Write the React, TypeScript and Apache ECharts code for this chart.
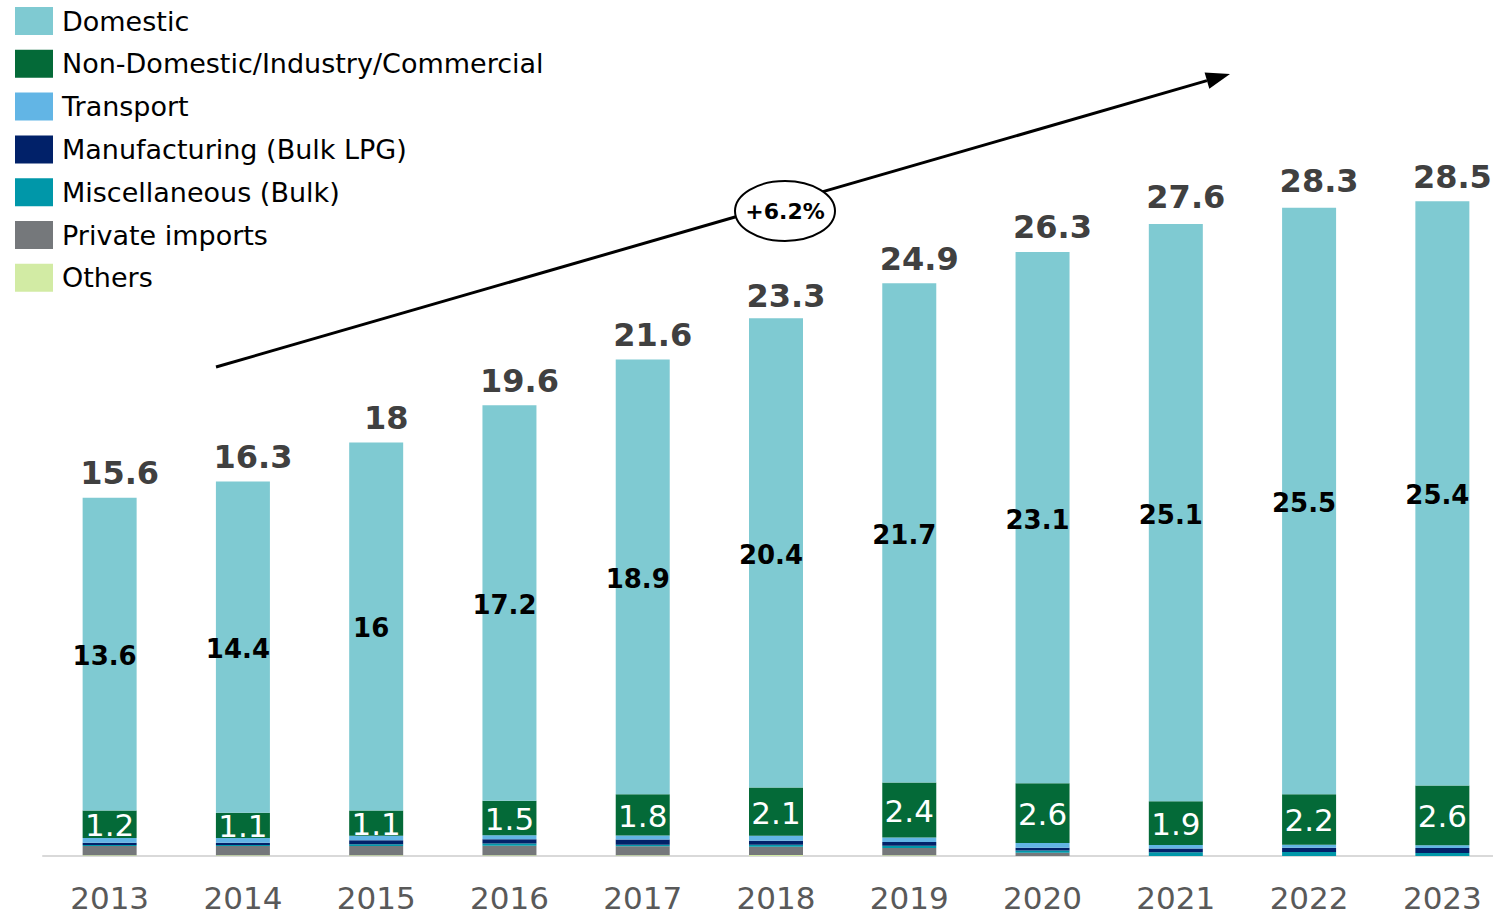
import React, { useEffect, useRef } from "react";
import * as echarts from "echarts";

const years = ["2013", "2014", "2015", "2016", "2017", "2018", "2019", "2020", "2021", "2022", "2023"];
const others = [0.03, 0.03, 0.03, 0.03, 0.03, 0.04, 0.03, 0, 0, 0, 0];
const privateImports = [0.41, 0.41, 0.41, 0.42, 0.39, 0.36, 0.32, 0.14, 0, 0, 0];
const miscellaneous = [0.04, 0.04, 0.07, 0.09, 0.07, 0.09, 0.1, 0.1, 0.16, 0.17, 0.13];
const manufacturing = [0.1, 0.1, 0.17, 0.19, 0.23, 0.17, 0.16, 0.12, 0.17, 0.19, 0.22];
const transport = [0.2, 0.2, 0.2, 0.17, 0.17, 0.22, 0.19, 0.2, 0.15, 0.13, 0.12];
const nonDomestic = [1.2, 1.1, 1.1, 1.5, 1.8, 2.1, 2.4, 2.6, 1.9, 2.2, 2.6];
const domestic = [13.6, 14.4, 16, 17.2, 18.9, 20.4, 21.7, 23.1, 25.1, 25.5, 25.4];
const totals = [15.6, 16.3, 18, 19.6, 21.6, 23.3, 24.9, 26.3, 27.6, 28.3, 28.5];
const cagrLabel = "+6.2%";

const FONT = "DejaVu Sans, Verdana, sans-serif";

export default function App() {
  const ref = useRef<HTMLDivElement>(null);
  useEffect(() => {
    if (!ref.current) return;
    const chart = echarts.init(ref.current, undefined, { renderer: "svg" });
    const barBase = { type: "bar", stack: "total", barWidth: 54 };
    // arrow geometry
    const x1 = 216, y1 = 367, x2 = 1230, y2 = 74;
    const dx = x2 - x1, dy = y2 - y1;
    const len = Math.sqrt(dx * dx + dy * dy);
    const ux = dx / len, uy = dy / len;
    const nx = -uy, ny = ux;
    const hl = 24, hw = 8.5;
    const bx = x2 - ux * hl, by = y2 - uy * hl;
    chart.setOption({
      animation: false,
      textStyle: { fontFamily: FONT },
      legend: {
        orient: "vertical",
        left: 10,
        top: 2,
        itemWidth: 38,
        itemHeight: 28,
        itemGap: 14.8,
        icon: "rect",
        selectedMode: false,
        textStyle: { fontSize: 27, color: "#000", fontFamily: FONT, padding: [0, 0, 0, 4] },
        data: [
          "Domestic",
          "Non-Domestic/Industry/Commercial",
          "Transport",
          "Manufacturing (Bulk LPG)",
          "Miscellaneous (Bulk)",
          "Private imports",
          "Others",
        ],
      },
      grid: { left: 43, top: 28, width: 1466, height: 828 },
      xAxis: {
        type: "category",
        data: years,
        axisLine: { lineStyle: { color: "#d9d9d9", width: 2 } },
        axisTick: { show: false },
        axisLabel: { fontSize: 31, color: "#595959", margin: 26, fontFamily: FONT },
      },
      yAxis: { type: "value", min: 0, max: 36, show: false, splitLine: { show: false } },
      series: [
        { ...barBase, name: "Others", data: others, itemStyle: { color: "#d2eba4" } },
        { ...barBase, name: "Private imports", data: privateImports, itemStyle: { color: "#75787b" } },
        { ...barBase, name: "Miscellaneous (Bulk)", data: miscellaneous, itemStyle: { color: "#0097a9" } },
        { ...barBase, name: "Manufacturing (Bulk LPG)", data: manufacturing, itemStyle: { color: "#012169" } },
        { ...barBase, name: "Transport", data: transport, itemStyle: { color: "#62b5e5" } },
        {
          ...barBase,
          name: "Non-Domestic/Industry/Commercial",
          data: nonDomestic,
          itemStyle: { color: "#046a38" },
          label: { show: true, position: "inside", color: "#fff", fontSize: 31, fontFamily: FONT, offset: [0, 1] },
        },
        {
          ...barBase,
          name: "Domestic",
          data: domestic,
          itemStyle: { color: "#7fcad2" },
          label: {
            show: true,
            position: "inside",
            color: "#000",
            fontSize: 26,
            fontWeight: "bold",
            fontFamily: FONT,
            offset: [-5, 2],
          },
        },
        {
          type: "scatter",
          name: "Total",
          data: totals,
          symbolSize: 0,
          silent: true,
          itemStyle: { opacity: 1, color: "#404040" },
          label: {
            show: true,
            position: "top",
            distance: 8,
            offset: [10, 0],
            color: "#404040",
            opacity: 1,
            fontSize: 32,
            fontWeight: "bold",
            fontFamily: FONT,
            formatter: (p: any) => String(p.value),
          },
        },
      ],
      graphic: [
        {
          type: "line",
          shape: { x1, y1, x2: bx, y2: by },
          style: { stroke: "#000", lineWidth: 3 },
          z: 10,
        },
        {
          type: "polygon",
          shape: {
            points: [
              [x2, y2],
              [bx + nx * hw, by + ny * hw],
              [bx - nx * hw, by - ny * hw],
            ],
          },
          style: { fill: "#000" },
          z: 10,
        },
        {
          type: "ellipse",
          shape: { cx: 785, cy: 211, rx: 50, ry: 30 },
          style: { fill: "#fff", stroke: "#000", lineWidth: 2 },
          z: 11,
        },
        {
          type: "text",
          x: 785,
          y: 211,
          z: 12,
          style: {
            text: cagrLabel,
            fill: "#000",
            font: `bold 22px ${FONT}`,
            align: "center",
            verticalAlign: "middle",
          },
        },
      ],
    });
    return () => chart.dispose();
  }, []);
  return (
    <div style={{ position: "fixed", left: 0, top: 0, width: 1493, height: 915, overflow: "hidden", background: "#fff" }}>
      <div ref={ref} style={{ width: 1520, height: 915 }} />
    </div>
  );
}
